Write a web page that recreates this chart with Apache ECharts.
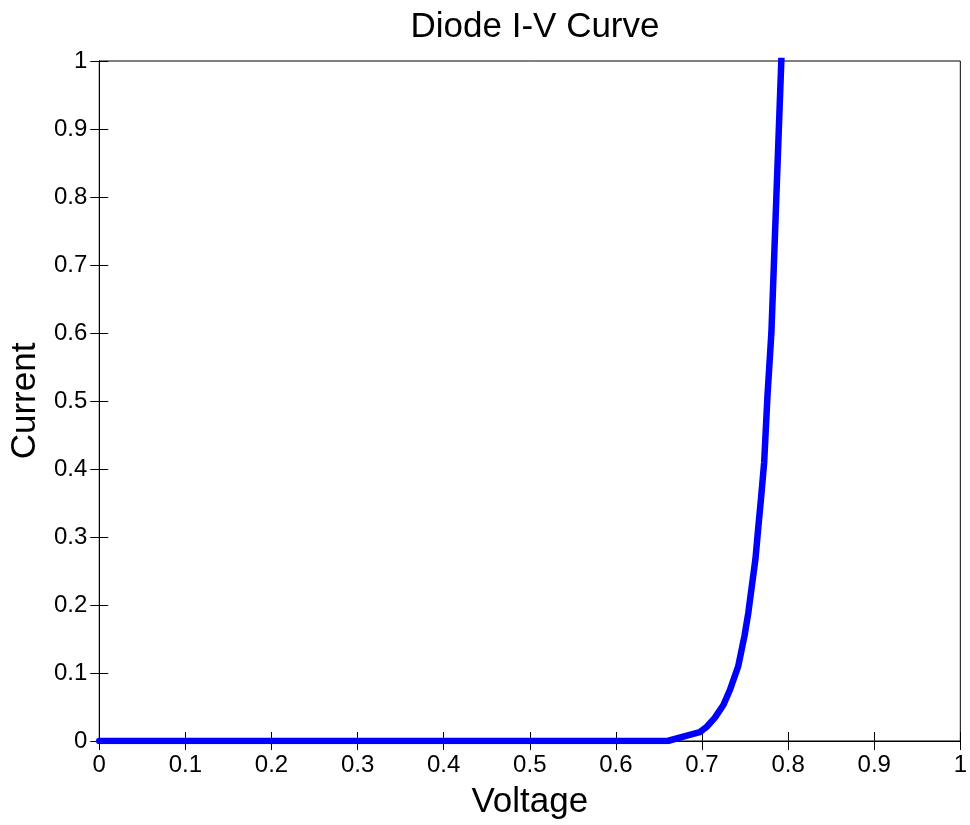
<!DOCTYPE html>
<html>
<head>
<meta charset="utf-8">
<script src="https://cdn.jsdelivr.net/npm/echarts@6/dist/echarts.min.js"></script>
<style>
html,body{margin:0;padding:0;background:#fff;overflow:hidden;}
#chart{width:970px;height:825px;}
</style>
</head>
<body>
<div id="chart"></div>
<script>
// Data
const voltage = [0, 0.66, 0.6824, 0.6975, 0.7055, 0.7148, 0.7248, 0.7324, 0.7421, 0.7494, 0.7537, 0.7621, 0.7652, 0.7682, 0.7722, 0.7760, 0.7806, 0.7921, 0.7939];
const current = [0, 0, 0.008, 0.013, 0.021, 0.034, 0.053, 0.075, 0.110, 0.155, 0.188, 0.268, 0.312, 0.352, 0.410, 0.507, 0.601, 1.0, 1.06];
const xTicks = [0, 0.1, 0.2, 0.3, 0.4, 0.5, 0.6, 0.7, 0.8, 0.9, 1];
const yTicks = [0, 0.1, 0.2, 0.3, 0.4, 0.5, 0.6, 0.7, 0.8, 0.9, 1];
const titleText = 'Diode I-V Curve';
const xName = 'Voltage';
const yName = 'Current';

const FONT = "'Liberation Sans', Arial, Helvetica, sans-serif";
const chart = echarts.init(document.getElementById('chart'), null, {renderer: 'canvas', width: 970, height: 825});

function fmt(v) {
  const r = Math.round(v * 10) / 10;
  return String(r);
}
const tickAxisBase = {
  type: 'value',
  min: 0,
  max: 1,
  interval: 0.1,
  axisLine: {show: true, lineStyle: {color: '#000', width: 1}},
  axisTick: {show: true, inside: true, length: 9, lineStyle: {color: '#000', width: 1}},
  splitLine: {show: false}
};

const pts = voltage.map((v, i) => [v, current[i]]);

chart.setOption({
  animation: false,
  backgroundColor: '#fff',
  title: {
    text: titleText,
    left: 530,
    top: 5,
    textAlign: 'center',
    textStyle: {fontFamily: FONT, fontSize: 35, fontWeight: 'normal', color: '#000'}
  },
  grid: {left: 99, width: 866, top: 61, height: 682, show: true, borderColor: '#000', borderWidth: 1, backgroundColor: '#fff'},
  xAxis: [
    Object.assign({}, tickAxisBase, {
      position: 'bottom',
      name: xName,
      nameLocation: 'middle',
      nameGap: 44,
      nameTextStyle: {fontFamily: FONT, fontSize: 35, color: '#000'},
      axisLabel: {show: true, margin: 12, fontFamily: FONT, fontSize: 24, color: '#000',
        formatter: v => xTicks.includes(Math.round(v*10)/10) ? fmt(v) : ''}
    }),
    Object.assign({}, tickAxisBase, {position: 'top', axisLabel: {show: false}})
  ],
  yAxis: [
    Object.assign({}, tickAxisBase, {
      position: 'left',
      name: yName,
      nameLocation: 'middle',
      nameGap: 53,
      nameTextStyle: {fontFamily: FONT, fontSize: 35, color: '#000'},
      axisLabel: {show: true, margin: 12, fontFamily: FONT, fontSize: 24, color: '#000',
        formatter: v => yTicks.includes(Math.round(v*10)/10) ? fmt(v) : ''}
    }),
    Object.assign({}, tickAxisBase, {position: 'right', axisLabel: {show: false}})
  ],
  series: [{
    type: 'line',
    data: pts,
    xAxisIndex: 0,
    yAxisIndex: 0,
    showSymbol: false,
    symbol: 'none',
    clip: true,
    smooth: false,
    lineStyle: {color: '#0000FF', width: 6.5, cap: 'round', join: 'round'}
  }]
});
</script>
</body>
</html>
